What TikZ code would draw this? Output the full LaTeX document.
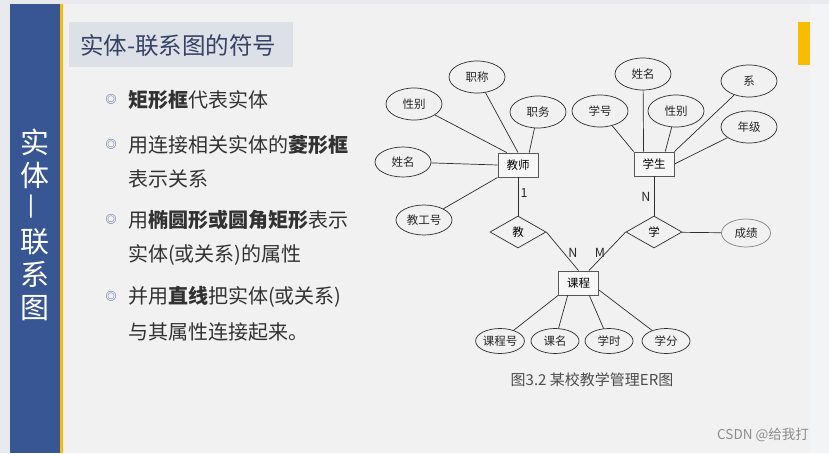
\documentclass[tikz,border=0pt]{standalone}
\usepackage{fontspec}
\setmainfont{Noto Sans CJK SC}
\newfontfamily\cjk{Noto Sans CJK SC}
\usetikzlibrary{shapes.geometric,calc}
\definecolor{outer}{RGB}{233,234,237}
\definecolor{rightstrip}{RGB}{243,244,246}
\definecolor{slidebg}{RGB}{241,241,241}
\definecolor{barblue}{RGB}{56,86,148}
\definecolor{baryellow}{RGB}{248,188,0}
\definecolor{titlebox}{RGB}{221,224,231}
\definecolor{titletext}{RGB}{52,66,100}
\definecolor{bodytext}{RGB}{50,50,50}
\definecolor{bulletblue}{RGB}{50,80,150}
\definecolor{erline}{RGB}{45,45,45}
\tikzset{
  attr/.style={ellipse, draw=erline, line width=0.7pt, minimum width=56pt, minimum height=32pt, inner sep=0pt, font=\cjk\fontsize{11.5}{12}\selectfont, text=black!85},
  battr/.style={attr, minimum width=48pt, minimum height=25pt},
  ent/.style={rectangle, draw=erline!80, line width=0.9pt, fill=white!40!slidebg, minimum width=40pt, minimum height=24pt, inner sep=0pt, font=\cjk\fontsize{11.5}{12}\selectfont},
  rel/.style={diamond, draw=erline, line width=0.7pt, aspect=1.75, minimum width=56pt, minimum height=32pt, inner sep=0pt, font=\cjk\fontsize{11.5}{12}\selectfont},
  conn/.style={draw=erline, line width=0.7pt},
  card/.style={font=\fontsize{12.5}{12}\selectfont, text=black!85, inner sep=0pt},
  bodyline/.style={anchor=west, inner sep=0pt, font=\cjk\fontsize{20}{20}\selectfont, text=bodytext},
  bul/.style={inner sep=0pt, font=\cjk\fontsize{11}{11}\selectfont, text=bulletblue},
}
\begin{document}
\begin{tikzpicture}[x=1pt,y=-1pt]
\useasboundingbox (0,0) rectangle (829,453);
% backgrounds
\fill[outer] (0,0) rectangle (829,453);
\fill[slidebg] (63,4) rectangle (810,453);
\fill[rightstrip] (810,4) rectangle (829,453);
\fill[barblue] (10,4) rectangle (60,453);
\fill[baryellow] (60,4) rectangle (63,453);
\fill[baryellow] (798,22) rectangle (810,65);
% vertical title
\node[text=white, font=\cjk\fontsize{29}{33}\selectfont, align=center, inner sep=0pt, anchor=north] (vtitle) at (35,129) {实\\体\\\rotatebox{90}{—}\\联\\系\\图};
% title
\fill[titlebox] (69,22) rectangle (293,67);
\node[anchor=west, inner sep=0pt, text=titletext, font=\cjk\fontsize{23.5}{24}\selectfont] (title) at (80,46) {实体-联系图的符号};
% bullets
\node[bul] (b1) at (111,99) {◎};
\node[bodyline] (t1) at (128,100) {\textbf{矩形框}代表实体};
\node[bul] (b2) at (111,144) {◎};
\node[bodyline] (t2a) at (128,145) {用连接相关实体的\textbf{菱形框}};
\node[bodyline] (t2b) at (128,179) {表示关系};
\node[bul] (b3) at (111,219) {◎};
\node[bodyline] (t3a) at (128,220) {用\textbf{椭圆形或圆角矩形}表示};
\node[bodyline] (t3b) at (128,255) {实体(或关系)的属性};
\node[bul] (b4) at (111,296) {◎};
\node[bodyline] (t4a) at (128,297) {并用\textbf{直线}把实体(或关系)};
\node[bodyline] (t4b) at (128,332) {与其属性连接起来。};
% ER diagram: teacher
\node[ent] (js) at (518,165) {教师};
\node[attr] (jzc) at (477,77) {职称};
\node[attr] (jxb) at (414,104) {性别};
\node[attr] (jzw) at (538,112) {职务};
\node[attr, minimum height=30pt] (jxm) at (403,162) {姓名};
\node[attr, minimum height=30pt] (jgh) at (424,220) {教工号};
\node[rel] (jiao) at (518,232) {教};
\draw[conn] (jzc) -- (js.north);
\draw[conn] (jxb) -- (js.132);
\draw[conn] (jzw) -- (js.48);
\draw[conn] (jxm) -- (js.west);
\draw[conn] (jgh) -- (js.south west);
\draw[conn] (js) -- (jiao);
\node[card] (c1) at (524,193) {1};
% student
\node[ent] (xs) at (654,164) {学生};
\node[attr] (sxm) at (643,74) {姓名};
\node[attr] (sxh) at (600,111) {学号};
\node[attr] (sxb) at (676,111) {性别};
\node[attr] (sxi) at (749,81) {系};
\node[attr] (snj) at (749,127) {年级};
\node[rel] (xue) at (654,232) {学};
\node[attr, draw=erline!60, minimum width=49pt, minimum height=28pt] (cj) at (746,233) {成绩};
\draw[conn] (sxh) -- (xs.north west);
\draw[conn] (sxm) -- (xs.130);
\draw[conn] (sxb) -- (xs.48);
\draw[conn] (sxi) -- (xs.north east);
\draw[conn] (snj) -- (xs.east);
\draw[conn] (xs) -- (xue);
\draw[conn] (xue) -- (cj);
\node[card] (c2) at (646,197) {N};
% course
\node[ent] (kc) at (578.5,283) {课程};
\draw[conn] (jiao.east) -- (kc.north);
\draw[conn] (xue.west) -- (kc.50);
\node[card] (c3) at (573,253) {N};
\node[card] (c4) at (600,253) {M};
\node[battr] (kch) at (500,341) {课程号};
\node[battr] (kcm) at (555,341) {课名};
\node[battr] (kxs) at (609,341) {学时};
\node[battr] (kxf) at (666,341) {学分};
\draw[conn] (kch) -- (kc.south west);
\draw[conn] (kcm) -- (kc.229);
\draw[conn] (kxs) -- (kc.311);
\draw[conn] (kxf) -- (kc.-19);
% caption
\node[inner sep=0pt, text=black!70, font=\cjk\fontsize{15}{15}\selectfont] (cap) at (592,380) {图3.2 某校教学管理ER图};
% watermark
\node[inner sep=0pt, text=black!45, font=\cjk\fontsize{13.5}{13.5}\selectfont] (wm) at (763,435) {CSDN @给我打};
\end{tikzpicture}
\end{document}
